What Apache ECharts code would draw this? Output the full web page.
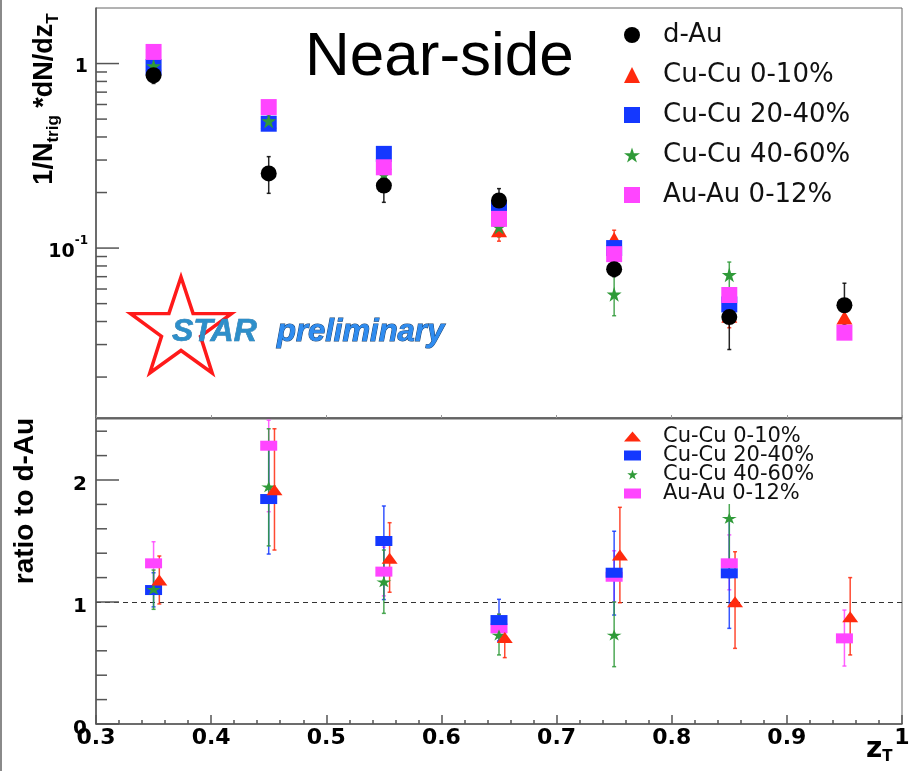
<!DOCTYPE html>
<html>
<head>
<meta charset="utf-8">
<script src="https://cdn.jsdelivr.net/npm/echarts@6/dist/echarts.min.js"></script>
<style>
  html, body { margin: 0; padding: 0; background: #fff; }
  #chart { width: 912px; height: 771px; }
</style>
</head>
<body>
<div id="chart"></div>
<script>
// z_T bin centres
const zT = [0.35, 0.45, 0.55, 0.65, 0.75, 0.85, 0.95];

// Near-side yields 1/N_trig dN/dz_T
const dAu       = [0.864, 0.254, 0.218, 0.181, 0.0769, 0.0423, 0.0490];
const dAuLo     = [0.78, 0.198, 0.177, 0.156, 0.070, 0.0282, 0.0387];
const dAuHi     = [0.95, 0.313, 0.262, 0.210, 0.085, 0.0564, 0.0645];

const cu010     = [1.00, 0.485, 0.29, 0.125, 0.112, 0.043, 0.042];
const cu010Lo   = [0.93, 0.44, 0.26, 0.109, 0.100, 0.037, 0.036];
const cu010Hi   = [1.07, 0.53, 0.32, 0.142, 0.125, 0.050, 0.048];

const cu2040    = [0.958, 0.472, 0.324, 0.164, 0.100, 0.0495, null];
const cu2040Lo  = [0.92, 0.45, 0.30, 0.152, 0.092, 0.045, null];
const cu2040Hi  = [1.00, 0.50, 0.35, 0.178, 0.110, 0.055, null];

const cu4060    = [0.97, 0.488, 0.25, 0.13, 0.0562, 0.0716, null];
const cu4060Lo  = [0.93, 0.46, 0.22, 0.115, 0.043, 0.060, null];
const cu4060Hi  = [1.01, 0.52, 0.28, 0.145, 0.082, 0.084, null];

const auau      = [1.156, 0.581, 0.274, 0.144, 0.0927, 0.0557, 0.0348];
const auauLo    = [1.12, 0.565, 0.265, 0.139, 0.090, 0.054, 0.0338];
const auauHi    = [1.19, 0.600, 0.283, 0.148, 0.096, 0.0575, 0.0358];

// Ratios to d-Au
const rCu010    = [1.18, 1.92, 1.358, 0.708, 1.385, 1.003, 0.88];
const rCu010Lo  = [0.984, 1.426, 1.08, 0.544, 0.994, 0.62, 0.566];
const rCu010Hi  = [1.377, 2.42, 1.65, 0.87, 1.776, 1.412, 1.20];

const rCu2040   = [1.098, 1.844, 1.50, 0.852, 1.24, 1.235, null];
const rCu2040Lo = [0.96, 1.393, 1.02, 0.68, 0.893, 0.784, null];
const rCu2040Hi = [1.24, 2.30, 1.787, 1.022, 1.58, 1.69, null];

const rCu4060   = [1.104, 1.945, 1.166, 0.73, 0.73, 1.686, null];
const rCu4060Lo = [0.94, 1.46, 0.907, 0.566, 0.47, 1.20, null];
const rCu4060Hi = [1.262, 2.42, 1.426, 0.90, 1.00, 2.20, null];

const rAuAu     = [1.317, 2.281, 1.249, 0.784, 1.207, 1.317, 0.702];
const rAuAuLo   = [1.13, 1.74, 1.05, 0.68, 1.00, 1.10, 0.475];
const rAuAuHi   = [1.494, 2.49, 1.45, 0.90, 1.42, 1.55, 0.934];

// Axis ticks
const xTickLabels   = ['0.3', '0.4', '0.5', '0.6', '0.7', '0.8', '0.9', '1'];
const yieldMajor    = [0.1, 1];
const yieldMinor    = [0.02, 0.03, 0.04, 0.05, 0.06, 0.07, 0.08, 0.09, 0.2, 0.3, 0.4, 0.5, 0.6, 0.7, 0.8, 0.9];
const ratioMajor    = [0, 1, 2];
const ratioMinor    = [0.2, 0.4, 0.6, 0.8, 1.2, 1.4, 1.6, 1.8, 2.2, 2.4];

const NAMES = ['d-Au', 'Cu-Cu 0-10%', 'Cu-Cu 20-40%', 'Cu-Cu 40-60%', 'Au-Au 0-12%'];
const COLORS = {
  'd-Au': '#000000',
  'Cu-Cu 0-10%': '#ff2a0e',
  'Cu-Cu 20-40%': '#1438ff',
  'Cu-Cu 40-60%': '#2f9a38',
  'Au-Au 0-12%': '#ff45ff'
};
const STAR_PATH = 'path://M50 0L61.2 34.5L97.6 34.5L68.2 55.9L79.4 90.5L50 69.1L20.6 90.5L31.8 55.9L2.4 34.5L38.8 34.5Z';
const SHIFT_010 = 0.005; // small horizontal offset of the Cu-Cu 0-10% ratio points
const AXIS_COLOR = '#555';
const BOLD_FONT = 'DejaVu Sans';

function pts(xs, ys) {
  const out = [];
  xs.forEach((x, i) => { if (ys[i] != null) out.push([x, ys[i]]); });
  return out;
}

function errSeries(idx, xs, lo, hi, color) {
  const data = [];
  xs.forEach((x, i) => { if (lo[i] != null) data.push([x, lo[i], hi[i]]); });
  return {
    type: 'custom', xAxisIndex: idx, yAxisIndex: idx, silent: true, clip: true,
    encode: { x: 0, y: [1, 2] },
    data: data,
    renderItem: function (params, api) {
      const x = api.value(0);
      const a = api.coord([x, api.value(1)]);
      const b = api.coord([x, api.value(2)]);
      const st = { stroke: color, lineWidth: 1.5, opacity: 0.85 };
      return {
        type: 'group', children: [
          { type: 'line', shape: { x1: a[0], y1: a[1], x2: b[0], y2: b[1] }, style: st },
          { type: 'line', shape: { x1: a[0] - 2, y1: a[1], x2: a[0] + 2, y2: a[1] }, style: st },
          { type: 'line', shape: { x1: b[0] - 2, y1: b[1], x2: b[0] + 2, y2: b[1] }, style: st }
        ]
      };
    }
  };
}

function markSeries(idx, name, xs, ys, symbol, size) {
  return {
    type: 'scatter', name: name, xAxisIndex: idx, yAxisIndex: idx, silent: true,
    data: pts(xs, ys), symbol: symbol, symbolSize: size,
    itemStyle: { color: COLORS[name], opacity: 1, borderWidth: 0 },
    emphasis: { disabled: true }
  };
}

function tickSeries(idx, xMin, values, len) {
  return {
    type: 'custom', xAxisIndex: idx, yAxisIndex: idx, silent: true, clip: false,
    encode: { x: 0, y: 1 },
    data: values.map(v => [xMin, v]),
    renderItem: function (params, api) {
      const p = api.coord([api.value(0), api.value(1)]);
      return { type: 'line', shape: { x1: p[0], y1: p[1], x2: p[0] + len, y2: p[1] },
               style: { stroke: AXIS_COLOR, lineWidth: 1.5 } };
    }
  };
}

const zTShift = zT.map(x => x + SHIFT_010);

// Star outline for the logo
const starPts = [];
for (let k = 0; k < 10; k++) {
  const ang = -Math.PI / 2 + k * Math.PI / 5;
  const rad = k % 2 ? 20.5 : 53;
  starPts.push([181 + rad * Math.cos(ang), 330 + rad * Math.sin(ang)]);
}

const chart = echarts.init(document.getElementById('chart'), null, { renderer: 'canvas' });

const legendIcons = {
  'd-Au': 'circle', 'Cu-Cu 0-10%': 'triangle', 'Cu-Cu 20-40%': 'rect',
  'Cu-Cu 40-60%': STAR_PATH, 'Au-Au 0-12%': 'rect'
};

chart.setOption({
  animation: false,
  backgroundColor: '#fff',
  grid: [
    { left: 96, top: 8, width: 806, height: 410, show: true, borderColor: '#666', borderWidth: 1, outerBoundsMode: 'none', containLabel: false },
    { left: 96, top: 419, width: 806, height: 305, show: true, borderColor: '#666', borderWidth: 1, outerBoundsMode: 'none', containLabel: false }
  ],
  legend: [
    {
      data: NAMES.map(n => ({ name: n, icon: legendIcons[n] })),
      orient: 'vertical', left: 619, top: 17, padding: 5,
      itemWidth: 16, itemHeight: 16, itemGap: 14, selectedMode: false,
      itemStyle: { borderWidth: 0 },
      textStyle: { fontFamily: 'DejaVu Sans', fontSize: 26, color: '#111', lineHeight: 16, padding: [0, 0, 0, 18] }
    },
    {
      data: NAMES.slice(1).map(n => ({ name: n, icon: legendIcons[n] })),
      orient: 'vertical', left: 619, top: 424, padding: [2, 30, 0, 5],
      backgroundColor: '#fff',
      itemWidth: 17, itemHeight: 10, itemGap: -2, selectedMode: false,
      itemStyle: { borderWidth: 0 },
      textStyle: { fontFamily: 'DejaVu Sans', fontSize: 21, color: '#111', lineHeight: 18, padding: [0, 0, 0, 17] }
    }
  ],
  xAxis: [
    {
      type: 'value', gridIndex: 0, min: 0.3, max: 1.0, interval: 0.1,
      axisLine: { show: true, lineStyle: { color: AXIS_COLOR, width: 1.5 } },
      axisTick: { show: true, inside: true, length: 3, lineStyle: { color: '#999' } },
      axisLabel: { show: false }, splitLine: { show: false }
    },
    {
      type: 'value', gridIndex: 1, min: 0.3, max: 1.0, interval: 0.1,
      axisLine: { show: true, onZero: false, lineStyle: { color: AXIS_COLOR, width: 1.5 } },
      axisTick: { show: true, inside: true, length: 9, lineStyle: { color: AXIS_COLOR, width: 1.5 } },
      minorTick: { show: true, splitNumber: 5, length: 4, lineStyle: { color: AXIS_COLOR, width: 1.5 } },
      axisLabel: {
        show: true, margin: 3, color: '#000', fontFamily: BOLD_FONT, fontWeight: 'bold', fontSize: 22,
        showMinLabel: true, showMaxLabel: true,
        formatter: function (v) { return xTickLabels[Math.round((v - 0.3) * 10)]; }
      },
      splitLine: { show: false }
    }
  ],
  yAxis: [
    {
      type: 'log', logBase: 10, gridIndex: 0, min: 0.012, max: 2,
      axisLine: { show: true, lineStyle: { color: AXIS_COLOR, width: 1.5 } },
      axisTick: { show: false }, splitLine: { show: false }, minorTick: { show: false },
      axisLabel: {
        show: true, margin: 8, color: '#000',
        formatter: function (v) {
          if (Math.abs(v - 1) < 1e-9) return '{b|1}';
          if (Math.abs(v - 0.1) < 1e-9) return '{b|10}{s|-1}';
          return '';
        },
        rich: {
          b: { fontFamily: BOLD_FONT, fontWeight: 'bold', fontSize: 19, lineHeight: 26, verticalAlign: 'bottom', padding: [4, 0, 0, 0] },
          s: { fontFamily: BOLD_FONT, fontWeight: 'bold', fontSize: 12, lineHeight: 12, verticalAlign: 'top' }
        }
      }
    },
    {
      type: 'value', gridIndex: 1, min: 0, max: 2.5, interval: 1,
      axisLine: { show: true, onZero: false, lineStyle: { color: AXIS_COLOR, width: 1.5 } },
      axisTick: { show: false }, splitLine: { show: false },
      axisLabel: {
        show: true, margin: 9, color: '#000',
        formatter: function (v) {
          return Math.abs(v - Math.round(v)) < 1e-9 ? '{v|' + Math.round(v) + '}' : '';
        },
        rich: {
          v: { fontFamily: BOLD_FONT, fontWeight: 'bold', fontSize: 20, lineHeight: 22, padding: [9, 0, 0, 0] }
        }
      }
    }
  ],
  series: [
    // axis tick marks
    tickSeries(0, 0.3, yieldMajor, 23),
    tickSeries(0, 0.3, yieldMinor, 11),
    tickSeries(1, 0.3, ratioMajor, 23),
    tickSeries(1, 0.3, ratioMinor, 11),

    // yields
    errSeries(0, zT, cu010Lo, cu010Hi, COLORS['Cu-Cu 0-10%']),
    markSeries(0, 'Cu-Cu 0-10%', zT, cu010, 'triangle', [16, 14]),
    errSeries(0, zT, cu2040Lo, cu2040Hi, COLORS['Cu-Cu 20-40%']),
    markSeries(0, 'Cu-Cu 20-40%', zT, cu2040, 'rect', 16),
    errSeries(0, zT, cu4060Lo, cu4060Hi, COLORS['Cu-Cu 40-60%']),
    markSeries(0, 'Cu-Cu 40-60%', zT, cu4060, STAR_PATH, 15),
    errSeries(0, zT, auauLo, auauHi, COLORS['Au-Au 0-12%']),
    markSeries(0, 'Au-Au 0-12%', zT, auau, 'rect', 16),
    errSeries(0, zT, dAuLo, dAuHi, COLORS['d-Au']),
    markSeries(0, 'd-Au', zT, dAu, 'circle', 16),

    // ratios to d-Au
    Object.assign(errSeries(1, zT, rAuAuLo, rAuAuHi, COLORS['Au-Au 0-12%']), {
      markLine: {
        silent: true, symbol: 'none', z: 1, label: { show: false },
        lineStyle: { type: [5, 4], color: '#333', width: 1 },
        data: [{ yAxis: 1 }]
      }
    }),
    markSeries(1, 'Au-Au 0-12%', zT, rAuAu, 'rect', [17, 10]),
    errSeries(1, zT, rCu2040Lo, rCu2040Hi, COLORS['Cu-Cu 20-40%']),
    markSeries(1, 'Cu-Cu 20-40%', zT, rCu2040, 'rect', [17, 10]),
    errSeries(1, zT, rCu4060Lo, rCu4060Hi, COLORS['Cu-Cu 40-60%']),
    markSeries(1, 'Cu-Cu 40-60%', zT, rCu4060, STAR_PATH, [15, 11]),
    errSeries(1, zTShift, rCu010Lo, rCu010Hi, COLORS['Cu-Cu 0-10%']),
    markSeries(1, 'Cu-Cu 0-10%', zTShift, rCu010, 'triangle', [16, 11])
  ],
  graphic: [
    { type: 'rect', silent: true, shape: { x: 0, y: 0, width: 2, height: 771 }, style: { fill: '#8a8a8a' } },
    {
      type: 'text', silent: true, x: 305, y: 58,
      style: { text: 'Near-side', fontFamily: 'Liberation Sans', fontSize: 62, fill: '#000', align: 'left', verticalAlign: 'middle' }
    },
    {
      type: 'polygon', silent: true, shape: { points: starPts },
      style: { fill: 'none', stroke: '#ff1a1a', lineWidth: 3.5, lineJoin: 'miter' }
    },
    {
      type: 'text', silent: true, x: 172, y: 332,
      style: { text: 'STAR', fontFamily: 'Liberation Sans', fontWeight: 'bold', fontStyle: 'italic', fontSize: 32,
               fill: '#2e8fca', stroke: '#1e6a9c', lineWidth: 0.6, align: 'left', verticalAlign: 'middle' }
    },
    {
      type: 'text', silent: true, x: 277, y: 332,
      style: { text: 'preliminary', fontFamily: 'Liberation Sans', fontWeight: 'bold', fontStyle: 'italic', fontSize: 31,
               fill: '#2f8cf0', stroke: '#17406e', lineWidth: 1, align: 'left', verticalAlign: 'middle' }
    },
    {
      type: 'text', silent: true, x: 45, y: 99, rotation: Math.PI / 2,
      style: {
        text: '{m|1/N}{s|trig}{m| *dN/dz}{s|T}', align: 'center', verticalAlign: 'middle',
        rich: {
          m: { fontFamily: 'Liberation Sans', fontWeight: 'bold', fontSize: 27, lineHeight: 34, fill: '#000' },
          s: { fontFamily: 'Liberation Sans', fontWeight: 'bold', fontSize: 17, lineHeight: 14, verticalAlign: 'bottom', fill: '#000' }
        }
      }
    },
    {
      type: 'text', silent: true, x: 25, y: 501, rotation: Math.PI / 2,
      style: { text: 'ratio to d-Au', fontFamily: 'Liberation Sans', fontWeight: 'bold', fontSize: 28, fill: '#000',
               align: 'center', verticalAlign: 'middle' }
    },
    {
      type: 'text', silent: true, x: 866, y: 750,
      style: {
        text: '{m|z}{s|T}', align: 'left', verticalAlign: 'middle',
        rich: {
          m: { fontFamily: BOLD_FONT, fontWeight: 'bold', fontSize: 28, lineHeight: 30, fill: '#000' },
          s: { fontFamily: BOLD_FONT, fontWeight: 'bold', fontSize: 15, lineHeight: 12, verticalAlign: 'bottom', fill: '#000' }
        }
      }
    }
  ]
});
</script>
</body>
</html>
